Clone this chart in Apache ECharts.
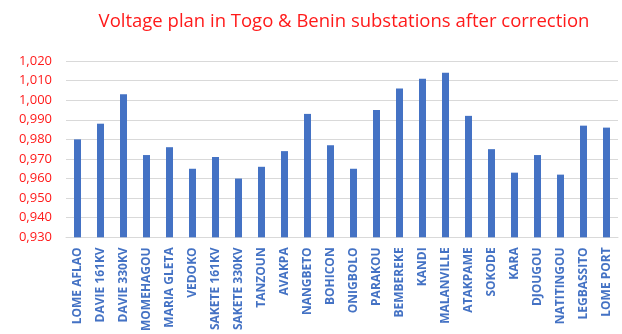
<!DOCTYPE html>
<html>
<head>
<meta charset="utf-8">
<script src="https://cdn.jsdelivr.net/npm/echarts@6/dist/echarts.min.js"></script>
<style>
  html, body { margin: 0; padding: 0; background: #fff; }
  #chart { width: 622px; height: 334px; }
</style>
</head>
<body>
<div id="chart"></div>
<script>
// Substations along the Togo & Benin network
const substations = [
  'LOME AFLAO', 'DAVIE 161KV', 'DAVIE 330KV', 'MOMEHAGOU', 'MARIA GLETA', 'VEDOKO',
  'SAKETE 161KV', 'SAKETE 330KV', 'TANZOUN', 'AVAKPA', 'NANGBETO', 'BOHICON',
  'ONIGBOLO', 'PARAKOU', 'BEMBEREKE', 'KANDI', 'MALANVILLE', 'ATAKPAME',
  'SOKODE', 'KARA', 'DJOUGOU', 'NATITINGOU', 'LEGBASSITO', 'LOME PORT'
];

// Per-unit voltage after correction
const voltagePu = [
  0.980, 0.988, 1.003, 0.972, 0.976, 0.965,
  0.971, 0.960, 0.966, 0.974, 0.993, 0.977,
  0.965, 0.995, 1.006, 1.011, 1.014, 0.992,
  0.975, 0.963, 0.972, 0.962, 0.987, 0.986
];

// Value axis range
const axisMin = 0.930;
const axisMax = 1.020;
const axisStep = 0.010;

const chart = echarts.init(document.getElementById('chart'), null, { renderer: 'canvas' });

chart.setOption({
  animation: false,
  title: {
    text: 'Voltage plan in Togo & Benin substations after correction',
    left: 339,
    top: 7,
    textAlign: 'center',
    textStyle: {
      color: '#ff1a1a',
      fontSize: 18.5,
      fontWeight: 'normal',
      fontFamily: 'Open Sans'
    }
  },
  grid: {
    left: 66,
    right: 4,
    top: 61,
    bottom: 93,
    containLabel: false
  },
  xAxis: {
    type: 'category',
    data: substations,
    axisTick: { show: false },
    axisLine: { lineStyle: { color: '#d9d9d9', width: 1 } },
    axisLabel: {
      rotate: 90,
      interval: 0,
      margin: 10,
      color: '#4472c4',
      fontWeight: 'bold',
      fontSize: 12,
      fontFamily: 'Open Sans'
    }
  },
  yAxis: {
    type: 'value',
    min: axisMin,
    max: axisMax,
    interval: axisStep,
    axisLine: { show: false },
    axisTick: { show: false },
    splitLine: { lineStyle: { color: '#d9d9d9', width: 1 } },
    axisLabel: {
      margin: 14,
      color: '#ff1a1a',
      fontSize: 13,
      fontFamily: 'Open Sans',
      formatter: v => v.toFixed(3).replace('.', ',')
    }
  },
  series: [{
    type: 'bar',
    data: voltagePu,
    barWidth: 7,
    itemStyle: { color: '#4472c4' }
  }]
});
</script>
</body>
</html>
